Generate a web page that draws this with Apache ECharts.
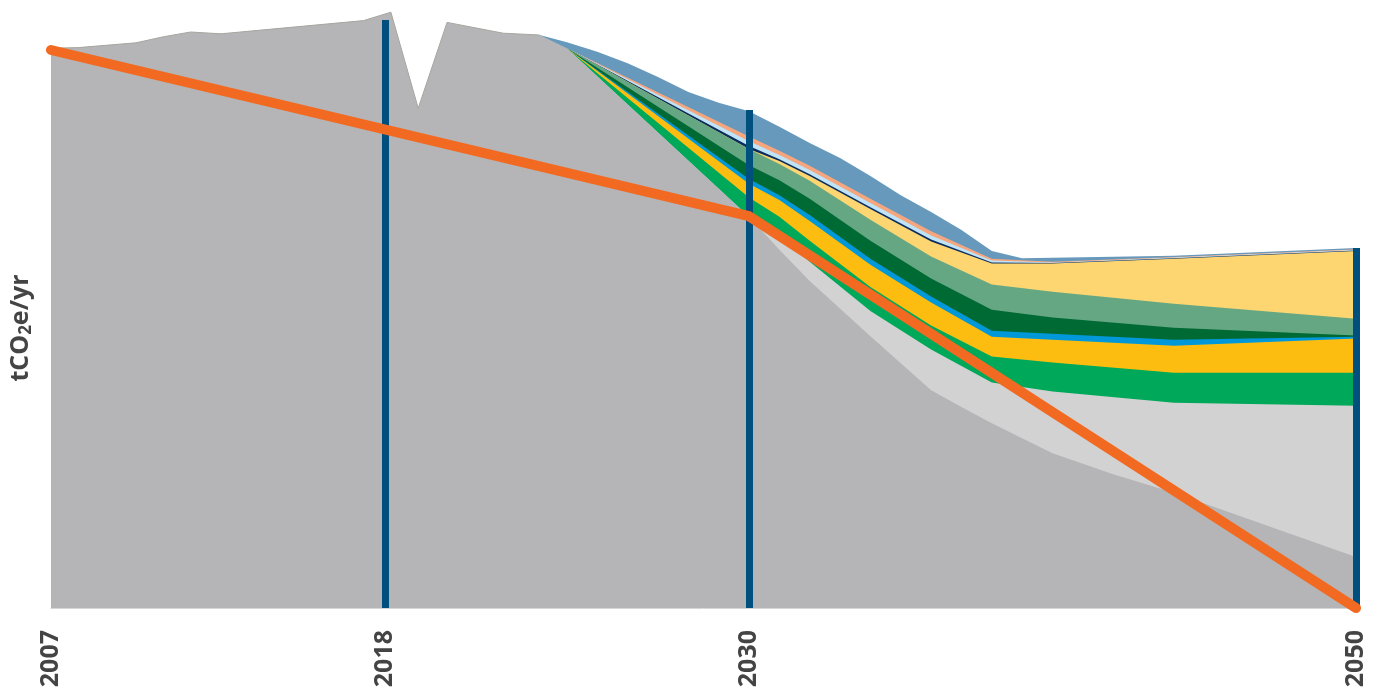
<!DOCTYPE html>
<html>
<head>
<meta charset="utf-8">
<script src="https://cdn.jsdelivr.net/npm/echarts@6/dist/echarts.min.js"></script>
<style>
  html, body { margin: 0; padding: 0; background: #fff; }
  #chart { width: 1379px; height: 698px; }
</style>
</head>
<body>
<div id="chart"></div>
<script>
// historical emissions (fractional years)
const histYears = [2007, 2007.9, 2009.8, 2010.7, 2011.6, 2012.6, 2017.3, 2018.2, 2019.1, 2020.05, 2021.9, 2023.1];
const histEmissions = [93.3, 93.4, 94.2, 95.2, 96.0, 95.7, 97.9, 99.3, 83.3, 97.6, 95.8, 95.5];

// remaining emissions after all measures (bottom grey curve)
const remainingYears = [2024, 2030, 2031, 2032, 2034, 2036, 2037, 2038, 2039, 2040, 2042, 2044, 2050];
const remaining = [93.3, 65.2, 59.7, 54.5, 45.3, 36.3, 33.5, 30.8, 28.3, 25.8, 22.3, 19.2, 8.5];

// abatement bands from bottom to top
const projYears = [2024, 2030, 2031, 2032, 2034, 2036, 2038, 2040, 2044, 2050];
const lightGrey = [0, 0, 2.2, 3.2, 4.2, 6.8, 6.8, 10.3, 15.0, 25.2];
const green = [0, 3.2, 3.3, 3.5, 4.0, 4.0, 4.3, 4.8, 5.0, 5.5];
const yellow = [0, 2.3, 2.8, 3.3, 3.7, 3.8, 3.3, 3.8, 4.5, 5.7];
const blue = [0, 0.8, 0.8, 1.0, 1.0, 1.0, 1.0, 1.0, 1.0, 0.3];
const darkGreen = [0, 2.3, 2.5, 2.7, 3.0, 3.0, 3.5, 2.7, 2.0, 0.2];
const medGreen = [0, 2.7, 2.7, 3.0, 3.5, 3.7, 4.2, 4.3, 4.0, 2.8];
const lightYellow = [0, 0, 0.5, 0.8, 1.8, 2.5, 3.5, 4.7, 7.5, 11.3];
const navy = [0, 0.5, 0.3, 0.3, 0.3, 0.3, 0.2, 0.1, 0.1, 0.1];
const lightBlue = [0, 0.8, 0.7, 0.7, 0.7, 0.7, 0.3, 0.1, 0.1, 0.1];
const salmon = [0, 0.8, 0.7, 0.7, 0.7, 0.7, 0.3, 0.1, 0.1, 0.1];

// business-as-usual total (top edge of the steel blue band)
const bauYears = [2023.1, 2024, 2025, 2026, 2027, 2028, 2029, 2030, 2031, 2032, 2033, 2034, 2035, 2036, 2037, 2038, 2039, 2044, 2050];
const bauTotal = [95.5, 94.3, 92.7, 90.8, 88.5, 86.0, 84.2, 82.8, 80.2, 77.5, 75.0, 72.0, 68.8, 66.0, 63.0, 59.5, 58.3, 58.7, 60.0];

// target pathway
const pathYears = [2007, 2030, 2050];
const pathValues = [93.0, 65.3, 0];

// milestone markers
const markerYears = [2018, 2030, 2050];
const markerTops = [98.0, 83.0, 60.0];

const tickYears = [2007, 2018, 2030, 2050];

function init() {
    const chart = echarts.init(document.getElementById('chart'));

    const bands = [
        { name: 'lightGrey', data: lightGrey, color: '#d2d2d2' },
        { name: 'green', data: green, color: '#00a85a' },
        { name: 'yellow', data: yellow, color: '#fdbd10' },
        { name: 'blue', data: blue, color: '#0098d8' },
        { name: 'darkGreen', data: darkGreen, color: '#006a34' },
        { name: 'medGreen', data: medGreen, color: '#66a783' },
        { name: 'lightYellow', data: lightYellow, color: '#fdd672' },
        { name: 'navy', data: navy, color: '#0b2d5e' },
        { name: 'lightBlue', data: lightBlue, color: '#bfe3f7' },
        { name: 'salmon', data: salmon, color: '#f6a67e' },
    ];

    // running totals on top of the remaining emissions; each band is drawn as
    // the area under its cumulative edge, topmost first
    let running = projYears.map((y) => remaining[remainingYears.indexOf(y)]);
    bands.forEach((b) => {
        running = running.map((v, i) => v + b.data[i]);
        b.edge = running.slice();
    });

    const area = (name, data, color) => ({
        name: name,
        type: 'line',
        data: data,
        symbol: 'none',
        lineStyle: { width: 0 },
        areaStyle: { color: color, opacity: 1 },
    });

    const series = [area('bau', bauYears.map((y, i) => [y, bauTotal[i]]), '#6699bc')];
    bands.slice().reverse().forEach((b) => {
        series.push(area(b.name, projYears.map((y, i) => [y, b.edge[i]]), b.color));
    });
    const histPts = histYears.map((y, i) => [y, histEmissions[i]]);
    const greyPts = histPts.concat(remainingYears.map((y, i) => [y, remaining[i]]));
    series.push(area('remaining', greyPts, '#b5b5b7'));
    // thin outline on the historical edge
    series.push({
        name: 'history',
        type: 'line',
        data: histPts,
        symbol: 'none',
        lineStyle: { color: '#a6a69f', width: 1 },
    });

    // milestone vertical lines
    series[series.length - 1].markLine = {
        silent: true,
        symbol: ['none', 'none'],
        label: { show: false },
        lineStyle: { color: '#00507f', width: 7, type: 'solid', cap: 'butt' },
        data: markerYears.map((y, i) => [{ coord: [y, 0] }, { coord: [y, markerTops[i]] }]),
    };
    series.push({
        name: 'pathway',
        type: 'line',
        z: 5,
        data: pathYears.map((y, i) => [y, pathValues[i]]),
        symbol: 'none',
        lineStyle: { color: '#f26a21', width: 10, cap: 'round', join: 'round' },
    });

    const option = {
        animation: false,
        grid: { left: 51, right: 23, top: 8, bottom: 90, outerBoundsMode: 'none' },
        xAxis: {
            type: 'value',
            min: 2007,
            max: 2050,
            axisLine: { show: true, lineStyle: { color: '#d6d6d6', width: 1 } },
            axisTick: { show: false },
            splitLine: { show: false },
            axisLabel: {
                customValues: tickYears,
                rotate: 90,
                margin: 22,
                color: '#444',
                fontSize: 25,
                fontWeight: 'bold',
                fontFamily: 'Open Sans',
                formatter: (v) => String(v),
            },
        },
        yAxis: {
            type: 'value',
            min: 0,
            max: 100,
            axisLine: { show: false },
            axisTick: { show: false },
            axisLabel: { show: false },
            splitLine: { show: false },
            name: 'tCO{sub|2}e/yr',
            nameLocation: 'middle',
            nameGap: 16,
            nameRotate: 90,
            nameTextStyle: {
                color: '#444',
                fontSize: 25,
                fontWeight: 'bold',
                fontFamily: 'Open Sans',
                padding: [0, 40, 0, 0],
                rich: {
                    sub: { fontSize: 17, fontWeight: 'bold', color: '#444', fontFamily: 'Open Sans', padding: [11, 0, 0, 0] },
                },
            },
        },
        series: series,
    };
    chart.setOption(option);
}

(function () {
    init();
})();
</script>
</body>
</html>
